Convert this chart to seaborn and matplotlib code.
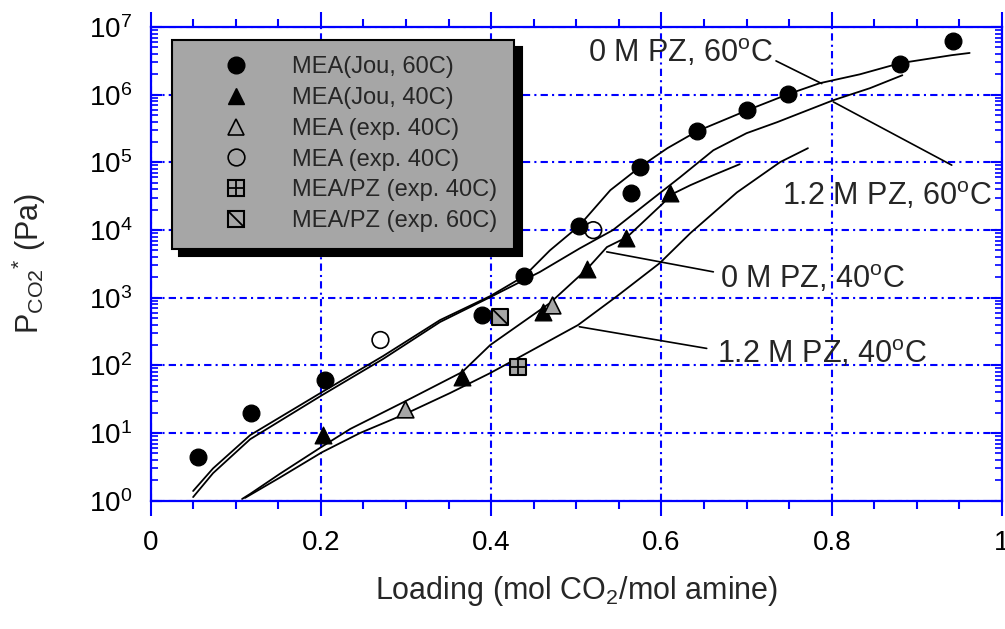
import matplotlib
matplotlib.use("Agg")
import matplotlib.pyplot as plt
from matplotlib.lines import Line2D
from matplotlib.markers import MarkerStyle
from matplotlib.ticker import MultipleLocator, LogLocator, NullFormatter
import seaborn as sns

# measured points
jou60_x = [0.0554, 0.1177, 0.205, 0.389, 0.4386, 0.503, 0.564, 0.575, 0.6415, 0.700, 0.749, 0.880, 0.942]
jou60_y = [4.47, 20, 61, 553, 2100, 11400, 35400, 85800, 2.92e5, 5.9e5, 1.02e6, 2.89e6, 6.2e6]
jou40_x = [0.203, 0.3655, 0.461, 0.513, 0.558, 0.610]
jou40_y = [9.3, 66.5, 607, 2620, 7670, 34700]
exp40_tri_x = [0.299, 0.471]
exp40_tri_y = [22.4, 778]
exp40_circ_x = [0.270, 0.520]
exp40_circ_y = [237, 9960]
pz40_x = [0.432]
pz40_y = [93]
pz60_x = [0.4105]
pz60_y = [522]

# model curves
pz0_60_x = [0.050, 0.0734, 0.117, 0.201, 0.273, 0.340, 0.399, 0.439, 0.469, 0.503, 0.540,
            0.575, 0.607, 0.642, 0.701, 0.749, 0.786, 0.833, 0.880, 0.941, 0.962]
pz0_60_y = [1.39, 3.0, 9.3, 40, 137, 467, 1057, 2090, 5000, 11400, 38800,
            85800, 162000, 289000, 590000, 1.02e6, 1.48e6, 2.0e6, 2.92e6, 3.84e6, 4.14e6]
pz12_60_x = [0.050, 0.0734, 0.117, 0.201, 0.273, 0.340, 0.399, 0.457, 0.504, 0.543, 0.583,
             0.622, 0.661, 0.700, 0.736, 0.763, 0.802, 0.845, 0.883]
pz12_60_y = [1.13, 2.55, 8.1, 36, 124, 437, 1020, 2390, 5350, 9970, 24900,
             60400, 151000, 270000, 393000, 534000, 830000, 1.25e6, 1.94e6]
pz0_40_x = [0.1075, 0.117, 0.152, 0.2014, 0.2346, 0.299, 0.366, 0.399, 0.469, 0.5126,
            0.536, 0.5596, 0.602, 0.610, 0.634, 0.661, 0.692]
pz0_40_y = [1.06, 1.26, 2.5, 6.3, 11.5, 29.4, 79.7, 200, 832, 2650,
            5600, 7850, 24900, 32700, 46000, 64700, 94000]
pz12_40_x = [0.111, 0.152, 0.2014, 0.246, 0.299, 0.3518, 0.399, 0.442, 0.502, 0.548,
             0.598, 0.634, 0.6887, 0.7393, 0.7721]
pz12_40_y = [1.1, 2.2, 5.2, 10.0, 19.1, 39, 77, 152, 394, 1057,
             3240, 9000, 36000, 100700, 162000]

x_ticks = [0, 0.2, 0.4, 0.6, 0.8, 1.0]
x_tick_labels = ["0", "0.2", "0.4", "0.6", "0.8", "1"]

sns.set_style("white")
plt.rcParams["font.family"] = ["Liberation Sans", "DejaVu Sans"]
plt.rcParams["mathtext.fontset"] = "custom"
plt.rcParams["mathtext.rm"] = "Liberation Sans"
plt.rcParams["mathtext.it"] = "Liberation Sans:italic"

blue = "#0000ff"
gray = "#a6a6a6"

fig = plt.figure(figsize=(10.05, 6.29), dpi=100)
ax = fig.add_axes([0.1498, 0.204, 0.8472, 0.753])

for cx, cy in [(pz0_60_x, pz0_60_y), (pz12_60_x, pz12_60_y),
               (pz0_40_x, pz0_40_y), (pz12_40_x, pz12_40_y)]:
    sns.lineplot(x=cx, y=cy, sort=False, estimator=None, color="k", lw=1.3, ax=ax)

ms = 12
s = ms ** 2
sns.scatterplot(x=jou60_x, y=jou60_y, marker="o", s=s, color="k", edgecolor="k", ax=ax, zorder=3)
sns.scatterplot(x=jou40_x, y=jou40_y, marker="^", s=s, color="k", edgecolor="k", ax=ax, zorder=3)
sns.scatterplot(x=exp40_tri_x, y=exp40_tri_y, marker="^", s=s, color=gray, edgecolor="k",
                linewidth=1.2, ax=ax, zorder=3)
sns.scatterplot(x=exp40_circ_x, y=exp40_circ_y, marker="o", s=s, facecolor="none",
                edgecolor="k", linewidth=1.2, ax=ax, zorder=3)
sns.scatterplot(x=pz40_x, y=pz40_y, marker="s", s=(ms - 1) ** 2, color=gray, edgecolor="k",
                linewidth=1.5, ax=ax, zorder=3)
sns.scatterplot(x=pz40_x, y=pz40_y, marker="+", s=(ms - 1) ** 2, color="k",
                linewidth=1.3, ax=ax, zorder=4)
diag = MarkerStyle([(-1, 1), (1, -1)])
sns.scatterplot(x=pz60_x, y=pz60_y, marker="s", s=(ms - 1) ** 2, color=gray, edgecolor="k",
                linewidth=1.5, ax=ax, zorder=3)
sns.scatterplot(x=pz60_x, y=pz60_y, marker=diag, s=(ms - 1) ** 2, facecolor="none",
                edgecolor="k", linewidth=1.3, ax=ax, zorder=4)

ax.set_yscale("log")
ax.set_xlim(0, 1)
ax.set_ylim(1, 1e7)
ax.set_xticks(x_ticks)
ax.set_xticklabels(x_tick_labels)
ax.xaxis.set_minor_locator(MultipleLocator(0.05))
ax.yaxis.set_major_locator(LogLocator(base=10, numticks=10))
ax.yaxis.set_minor_locator(LogLocator(base=10, subs=range(2, 10), numticks=20))
ax.yaxis.set_minor_formatter(NullFormatter())

ax.tick_params(axis="x", which="both", direction="out", top=True, bottom=True,
               colors=blue, labelcolor="k", labelsize=20, pad=10)
ax.tick_params(axis="x", which="major", length=11, width=1.5)
ax.tick_params(axis="x", which="minor", length=6, width=1.5)
ax.tick_params(axis="y", which="both", direction="in", left=True, right=True,
               colors=blue, labelcolor="k", labelsize=20, pad=13)
ax.tick_params(axis="y", which="major", length=8, width=1.5)
ax.tick_params(axis="y", which="minor", length=5, width=1.2)
for sp in ax.spines.values():
    sp.set_color(blue)
    sp.set_linewidth(1.6)

ax.grid(True, which="major", color=blue, lw=1.5, linestyle=(0, (3.5, 2, 1, 2)))
ax.set_axisbelow(True)

ax.set_xlabel("Loading (mol CO$_\\mathregular{2}$/mol amine)", fontsize=22)
ax.set_ylabel("P$_\\mathregular{CO2}$$^{\\mathregular{*}}$ (Pa)", fontsize=22)
ax.xaxis.set_label_coords(0.5, -0.155)
ax.yaxis.set_label_coords(-0.12, 0.5)

# curve labels with leader lines
labels = [
    ("0 M PZ, 60$^{\\mathregular{o}}$C", 0.5138, 3.05e6, (0.7346, 3.16e6), (0.7883, 1.46e6)),
    ("1.2 M PZ, 60$^{\\mathregular{o}}$C", 0.7413, 23300, (0.941, 9.1e4), (0.8019, 7.83e5)),
    ("0 M PZ, 40$^{\\mathregular{o}}$C", 0.6688, 1372, (0.661, 2410), (0.5358, 4760)),
    ("1.2 M PZ, 40$^{\\mathregular{o}}$C", 0.665, 107, (0.6532, 178), (0.5036, 372)),
]
for txt, tx, ty, p0, p1 in labels:
    ax.text(tx, ty, txt, fontsize=22, ha="left", va="baseline", zorder=5)
    ax.annotate("", xy=p1, xytext=p0,
                arrowprops=dict(arrowstyle="-", color="k", lw=1.2, shrinkA=0, shrinkB=0))

handles = [
    Line2D([], [], ls="none", marker="o", ms=ms, color="k"),
    Line2D([], [], ls="none", marker="^", ms=ms, color="k"),
    Line2D([], [], ls="none", marker="^", ms=ms, mfc=gray, mec="k", mew=1.2),
    Line2D([], [], ls="none", marker="o", ms=ms, mfc="none", mec="k", mew=1.2),
    (Line2D([], [], ls="none", marker="s", ms=ms - 1, mfc=gray, mec="k", mew=1.5),
     Line2D([], [], ls="none", marker="+", ms=ms - 1, color="k", mew=1.3)),
    (Line2D([], [], ls="none", marker="s", ms=ms - 1, mfc=gray, mec="k", mew=1.5),
     Line2D([], [], ls="none", marker=diag, ms=ms - 1, mfc="none", mec="k", mew=1.3)),
]
leg_labels = ["MEA(Jou, 60C)", "MEA(Jou, 40C)", "MEA (exp. 40C)", "MEA (exp. 40C)",
              "MEA/PZ (exp. 40C)", "MEA/PZ (exp. 60C)"]
leg = ax.legend(handles, leg_labels, loc="upper left", bbox_to_anchor=(0.025, 0.973),
                borderaxespad=0, fontsize=17, frameon=True, fancybox=False,
                facecolor=gray, edgecolor="k", framealpha=1,
                shadow={"ox": 5.5, "oy": -5.5, "color": "k", "alpha": 1},
                borderpad=0.7, handlelength=4.0, handletextpad=0.4, labelspacing=0.37)
leg.get_frame().set_linewidth(1.5)
leg.set_zorder(6)

fig.savefig("out.png", dpi=100)
